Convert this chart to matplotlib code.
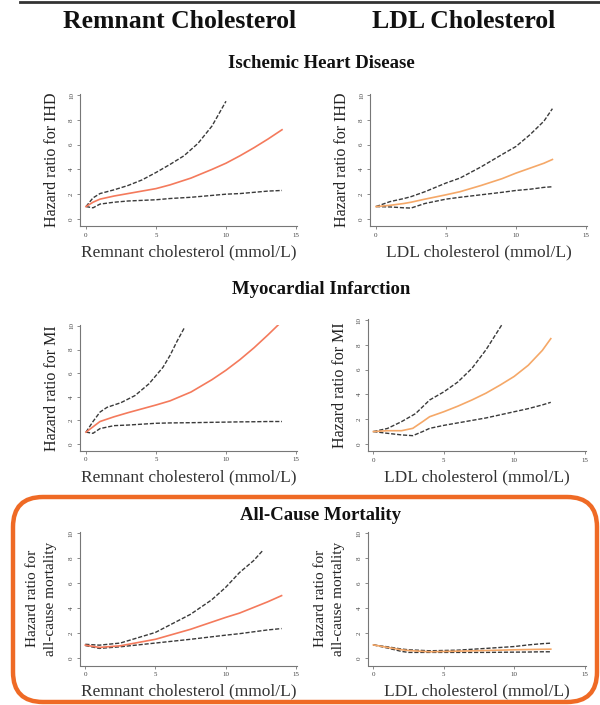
import matplotlib
matplotlib.use('Agg')
import matplotlib.pyplot as plt
from matplotlib.lines import Line2D
from matplotlib.patches import FancyBboxPatch

plt.rcParams['font.family'] = ['Liberation Serif', 'DejaVu Serif']

W, H = 600, 705

# --- Ischemic heart disease, remnant cholesterol
ihd_rem_x = [0, 0.5, 1, 2, 3, 4, 5, 6, 7.5, 9, 10, 11, 12, 13, 14]
ihd_rem_est = [1.0, 1.35, 1.6, 1.85, 2.05, 2.25, 2.45, 2.75, 3.3, 4.0, 4.5, 5.1, 5.75, 6.45, 7.2]
ihd_rem_lo = [1.0, 0.9, 1.2, 1.35, 1.45, 1.5, 1.55, 1.65, 1.75, 1.9, 2.0, 2.05, 2.15, 2.25, 2.3]
ihd_rem_hi_x = [0, 0.5, 1, 2, 3, 4, 5, 6, 7, 8, 9, 10]
ihd_rem_hi = [1.0, 1.7, 2.05, 2.35, 2.7, 3.15, 3.75, 4.4, 5.1, 6.1, 7.5, 9.5]

# --- Ischemic heart disease, LDL cholesterol
ihd_ldl_x = [0, 1, 2, 2.5, 3.5, 5, 6, 7.5, 9, 10, 11, 12, 12.6]
ihd_ldl_est = [1.0, 1.1, 1.25, 1.35, 1.6, 1.95, 2.2, 2.7, 3.25, 3.7, 4.1, 4.5, 4.8]
ihd_ldl_lo = [1.0, 0.97, 0.9, 0.88, 1.25, 1.6, 1.75, 1.95, 2.15, 2.3, 2.4, 2.55, 2.6]
ihd_ldl_hi_x = ihd_ldl_x
ihd_ldl_hi = [1.0, 1.4, 1.65, 1.8, 2.2, 2.9, 3.3, 4.2, 5.2, 5.85, 6.8, 7.9, 8.9]

# --- Myocardial infarction, remnant cholesterol
mi_rem_x = [0, 0.5, 1, 2, 3, 5, 6, 7.5, 9, 10, 11, 12, 13, 14]
mi_rem_est = [1.0, 1.45, 1.9, 2.3, 2.65, 3.3, 3.65, 4.4, 5.45, 6.25, 7.15, 8.15, 9.25, 10.4]
mi_rem_lo = [1.0, 0.9, 1.3, 1.55, 1.6, 1.75, 1.78, 1.8, 1.83, 1.85, 1.87, 1.88, 1.9, 1.9]
mi_rem_hi_x = [0, 0.5, 1, 1.5, 2.5, 3.5, 4.5, 5.5, 6, 6.5, 7.05]
mi_rem_hi = [1.0, 1.9, 2.7, 3.1, 3.5, 4.1, 5.1, 6.5, 7.5, 8.7, 9.9]

# --- Myocardial infarction, LDL cholesterol
mi_ldl_x = [0, 1, 2, 2.8, 3.5, 4, 5, 6, 7, 8, 9, 10, 11, 12, 12.6]
mi_ldl_est = [1.0, 1.07, 1.07, 1.26, 1.8, 2.2, 2.6, 3.05, 3.55, 4.1, 4.75, 5.45, 6.35, 7.55, 8.5]
mi_ldl_lo = [1.0, 0.86, 0.73, 0.67, 1.0, 1.26, 1.5, 1.7, 1.9, 2.1, 2.35, 2.6, 2.85, 3.15, 3.36]
mi_ldl_hi_x = [0, 1, 2, 3, 4, 5, 6, 7, 8, 9.17]
mi_ldl_hi = [1.0, 1.25, 1.8, 2.45, 3.55, 4.2, 5.0, 6.1, 7.6, 9.7]

# --- All-cause mortality, remnant cholesterol
acm_rem_x = [0, 1, 2.5, 5, 7.5, 10, 11, 12, 13, 14]
acm_rem_est = [1.03, 0.85, 0.98, 1.5, 2.3, 3.25, 3.6, 4.05, 4.5, 5.0]
acm_rem_lo = [1.0, 0.77, 0.9, 1.2, 1.5, 1.83, 1.95, 2.1, 2.25, 2.36]
acm_rem_hi_x = [0, 1, 2.5, 5, 7.5, 9, 10, 11, 12, 12.7]
acm_rem_hi = [1.1, 1.03, 1.2, 2.05, 3.5, 4.65, 5.65, 6.85, 7.8, 8.67]

# --- All-cause mortality, LDL cholesterol
acm_ldl_x = [0, 1, 2, 2.5, 4, 6, 8, 10, 11, 12, 12.6]
acm_ldl_est = [1.05, 0.85, 0.66, 0.6, 0.5, 0.55, 0.6, 0.66, 0.68, 0.7, 0.71]
acm_ldl_lo = [1.05, 0.8, 0.53, 0.45, 0.45, 0.45, 0.45, 0.47, 0.48, 0.5, 0.5]
acm_ldl_hi_x = acm_ldl_x
acm_ldl_hi = [1.05, 0.9, 0.72, 0.66, 0.58, 0.63, 0.77, 0.92, 1.05, 1.15, 1.19]

x_ticks = [0, 5, 10, 15]
y_ticks = [0, 2, 4, 6, 8, 10]

rem_color = '#f47a5c'
ldl_color = '#f5a868'
ci_color = '#3a3a3a'


def fx(px):
    return px / W


def fy(py):
    return 1 - py / H


def make_axes(fig, left, right, top, bottom):
    ax = fig.add_axes([fx(left), fy(bottom), fx(right) - fx(left), fy(top) - fy(bottom)])
    ax.set_xlim(-0.4, 15.1)
    ax.set_ylim(-0.6, 10.1)
    for s in ['top', 'right']:
        ax.spines[s].set_visible(False)
    for s in ['left', 'bottom']:
        ax.spines[s].set_color('#777777')
        ax.spines[s].set_linewidth(0.8)
    ax.set_xticks(x_ticks)
    ax.set_yticks(y_ticks)
    ax.tick_params(length=2.5, width=0.6, color='#777777', labelsize=5, labelcolor='#444444', pad=2)
    for lab in ax.get_yticklabels():
        lab.set_rotation(90)
        lab.set_va('center')
    return ax


def draw(ax, x, est, lo, hi_x, hi, color):
    ax.plot(hi_x, hi, color=ci_color, lw=1.0, dashes=(3, 1.3))
    ax.plot(x, lo, color=ci_color, lw=1.0, dashes=(3, 1.3))
    ax.plot(x, est, color=color, lw=1.2)


fig = plt.figure(figsize=(W / 100, H / 100), dpi=100)

# top rule
fig.add_artist(Line2D([fx(20), 1], [fy(1.5), fy(1.5)], color='#333333', lw=2))

# column headers
fig.text(fx(180), fy(22), 'Remnant Cholesterol', ha='center', va='center',
         fontsize=18.5, fontweight='bold', color='#111111')
fig.text(fx(464), fy(22), 'LDL Cholesterol', ha='center', va='center',
         fontsize=18.5, fontweight='bold', color='#111111')

# section titles
for title, yc in [('Ischemic Heart Disease', 63), ('Myocardial Infarction', 290),
                  ('All-Cause Mortality', 515)]:
    fig.text(fx(321), fy(yc), title, ha='center', va='center', fontsize=13.5,
             fontweight='bold', color='#111111')

panels = [
    (80.4, 297.4, 93.8, 226.4, ihd_rem_x, ihd_rem_est, ihd_rem_lo, ihd_rem_hi_x, ihd_rem_hi, rem_color,
     'Hazard ratio for IHD', 'Remnant cholesterol (mmol/L)'),
    (370.4, 587.4, 93.8, 226.4, ihd_ldl_x, ihd_ldl_est, ihd_ldl_lo, ihd_ldl_hi_x, ihd_ldl_hi, ldl_color,
     'Hazard ratio for IHD', 'LDL cholesterol (mmol/L)'),
    (80.4, 297.4, 324.8, 451.0, mi_rem_x, mi_rem_est, mi_rem_lo, mi_rem_hi_x, mi_rem_hi, rem_color,
     'Hazard ratio for MI', 'Remnant cholesterol (mmol/L)'),
    (367.7, 586.0, 318.8, 451.4, mi_ldl_x, mi_ldl_est, mi_ldl_lo, mi_ldl_hi_x, mi_ldl_hi, ldl_color,
     'Hazard ratio for MI', 'LDL cholesterol (mmol/L)'),
    (79.7, 297.0, 532.0, 665.5, acm_rem_x, acm_rem_est, acm_rem_lo, acm_rem_hi_x, acm_rem_hi, rem_color,
     'Hazard ratio for\nall-cause mortality', 'Remnant cholesterol (mmol/L)'),
    (367.7, 586.0, 532.0, 665.5, acm_ldl_x, acm_ldl_est, acm_ldl_lo, acm_ldl_hi_x, acm_ldl_hi, ldl_color,
     'Hazard ratio for\nall-cause mortality', 'LDL cholesterol (mmol/L)'),
]

for left, right, top, bottom, x, est, lo, hi_x, hi, color, ylab, xlab in panels:
    ax = make_axes(fig, left, right, top, bottom)
    draw(ax, x, est, lo, hi_x, hi, color)
    two = '\n' in ylab
    fig.text(fx(left - (38 if two else 28)), fy((top + bottom) / 2), ylab, rotation=90,
             ha='center', va='center', fontsize=11 if two else 11.5, linespacing=1.5,
             color='#222222')
    fig.text(fx((left + right) / 2), fy(bottom + 26), xlab, ha='center', va='center',
             fontsize=12.5, color='#333333')

# orange highlight box round the mortality row
box = FancyBboxPatch((0.13, 0.03), 5.84, 2.05, boxstyle='round,pad=0,rounding_size=0.3',
                     transform=fig.dpi_scale_trans, fill=False, ec='#ef6a25', lw=3.2)
fig.add_artist(box)

fig.savefig('out.png', dpi=100)
